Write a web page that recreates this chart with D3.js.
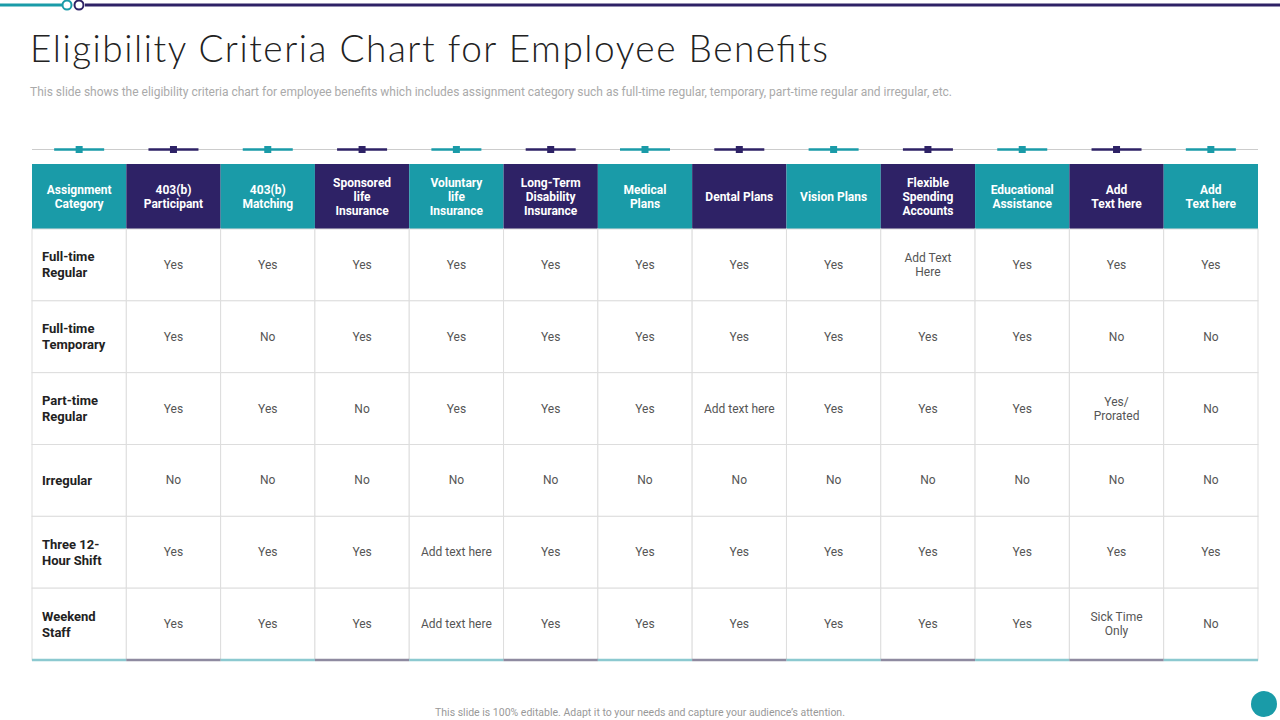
<!DOCTYPE html>
<html><head><meta charset="utf-8">
<script src="https://cdn.jsdelivr.net/npm/d3@7"></script>
<style>body{margin:0;background:#fff;overflow:hidden}</style>
</head><body>
<script>
var headers = ['Assignment\nCategory', '403(b)\nParticipant', '403(b)\nMatching', 'Sponsored\nlife\nInsurance',
  'Voluntary\nlife\nInsurance', 'Long-Term\nDisability\nInsurance', 'Medical\nPlans', 'Dental Plans', 'Vision Plans',
  'Flexible\nSpending\nAccounts', 'Educational\nAssistance', 'Add\nText here', 'Add\nText here'];
var categories = ['Full-time\nRegular', 'Full-time\nTemporary', 'Part-time\nRegular', 'Irregular', 'Three 12-\nHour  Shift', 'Weekend\nStaff'];
var cells = [
  ['Yes','Yes','Yes','Yes','Yes','Yes','Yes','Yes','Add Text\nHere','Yes','Yes','Yes'],
  ['Yes','No','Yes','Yes','Yes','Yes','Yes','Yes','Yes','Yes','No','No'],
  ['Yes','Yes','No','Yes','Yes','Yes','Add text here','Yes','Yes','Yes','Yes/\nProrated','No'],
  ['No','No','No','No','No','No','No','No','No','No','No','No'],
  ['Yes','Yes','Yes','Add text here','Yes','Yes','Yes','Yes','Yes','Yes','Yes','Yes'],
  ['Yes','Yes','Yes','Add text here','Yes','Yes','Yes','Yes','Yes','Yes','Sick Time\nOnly','No']
];

var teal = '#1a9ba8', dark = '#2e2266';
var svg = d3.select('body').append('svg').attr('width', 1280).attr('height', 720);

// top decoration
svg.append('line').attr('x1', 0).attr('x2', 62).attr('y1', 5).attr('y2', 5).attr('stroke', teal).attr('stroke-width', 3);
svg.append('line').attr('x1', 85).attr('x2', 1280).attr('y1', 5).attr('y2', 5).attr('stroke', dark).attr('stroke-width', 3);
svg.append('circle').attr('cx', 67).attr('cy', 5).attr('r', 4.5).attr('fill', '#fff').attr('stroke', teal).attr('stroke-width', 2);
svg.append('circle').attr('cx', 79).attr('cy', 5).attr('r', 4.5).attr('fill', '#fff').attr('stroke', dark).attr('stroke-width', 2);

svg.append('text').attr('x', 30).attr('y', 62).text('Eligibility Criteria Chart for Employee Benefits')
  .attr('font-family', 'Lato').attr('font-weight', 300).attr('font-size', 37).attr('fill', '#222')
  .attr('textLength', 798).attr('lengthAdjust', 'spacing');
svg.append('text').attr('x', 30).attr('y', 96)
  .text('This slide shows the eligibility criteria chart for  employee benefits which includes assignment category such as full-time regular, temporary, part-time regular and irregular, etc.')
  .attr('font-family', 'Roboto').attr('font-size', 12).attr('fill', '#aaa')
  .attr('textLength', 922).attr('lengthAdjust', 'spacingAndGlyphs');

var x = d3.scaleBand().domain(d3.range(headers.length)).range([32, 1258]);
var y = d3.scaleBand().domain(d3.range(categories.length)).range([229, 660]);
var colColor = function(i){ return i % 2 === 0 ? teal : dark; };

// connector line above headers
svg.append('line').attr('x1', 32).attr('x2', 1258).attr('y1', 149.5).attr('y2', 149.5).attr('stroke', '#ccc');
var deco = svg.selectAll('g.deco').data(headers).enter().append('g')
  .attr('transform', function(d, i){ return 'translate(' + (x(i) + x.bandwidth() / 2) + ',149.5)'; });
deco.append('line').attr('x1', -25).attr('x2', 25).attr('stroke', function(d, i){ return colColor(i); }).attr('stroke-width', 2.5);
deco.append('rect').attr('x', -3.5).attr('y', -3.5).attr('width', 7).attr('height', 7).attr('fill', function(d, i){ return colColor(i); });

// header cells
svg.selectAll('rect.head').data(headers).enter().append('rect')
  .attr('x', function(d, i){ return x(i); }).attr('y', 164).attr('width', x.bandwidth()).attr('height', 65)
  .attr('fill', function(d, i){ return colColor(i); });

function multiline(sel, cx, cy, str, lh){
  var lines = str.split('\n');
  var t = sel.append('text').attr('text-anchor', 'middle');
  lines.forEach(function(l, k){
    t.append('tspan').attr('x', cx).attr('y', cy + (k - (lines.length - 1) / 2) * lh + 4).text(l);
  });
  return t;
}
headers.forEach(function(h, i){
  multiline(svg, x(i) + x.bandwidth() / 2, 196.5, h, 14)
    .attr('font-family', 'Roboto').attr('font-weight', 'bold').attr('font-size', 12).attr('fill', '#fff');
});

// grid
categories.forEach(function(c, r){
  d3.range(headers.length).forEach(function(i){
    svg.append('rect').attr('x', x(i)).attr('y', y(r)).attr('width', x.bandwidth()).attr('height', y.bandwidth())
      .attr('fill', '#fff').attr('stroke', '#ddd');
  });
  var lines = c.split('\n');
  var t = svg.append('text').attr('font-family', 'Roboto').attr('font-weight', 'bold').attr('font-size', 13).attr('fill', '#222');
  lines.forEach(function(l, k){
    t.append('tspan').attr('x', x(0) + 10).attr('y', y(r) + y.bandwidth() / 2 + (k - (lines.length - 1) / 2) * 16 + 4.5).text(l);
  });
  cells[r].forEach(function(v, j){
    multiline(svg, x(j + 1) + x.bandwidth() / 2, y(r) + y.bandwidth() / 2, v, 14)
      .attr('font-family', 'Roboto').attr('font-size', 12).attr('fill', '#555');
  });
});

// bottom border
svg.selectAll('line.bot').data(headers).enter().append('line')
  .attr('x1', function(d, i){ return x(i); }).attr('x2', function(d, i){ return x(i) + x.bandwidth(); })
  .attr('y1', 660).attr('y2', 660).attr('stroke-width', 2.5)
  .attr('stroke', function(d, i){ return i % 2 === 0 ? '#8cc9d0' : '#8e8aa0'; });

svg.append('text').attr('x', 640).attr('y', 716).attr('text-anchor', 'middle')
  .text('This slide is 100% editable.  Adapt it to your needs and capture your audience\u2019s attention.')
  .attr('font-family', 'Roboto').attr('font-size', 10.5).attr('fill', '#999');
svg.append('circle').attr('cx', 1264).attr('cy', 704).attr('r', 13).attr('fill', teal);
</script>
</body></html>
